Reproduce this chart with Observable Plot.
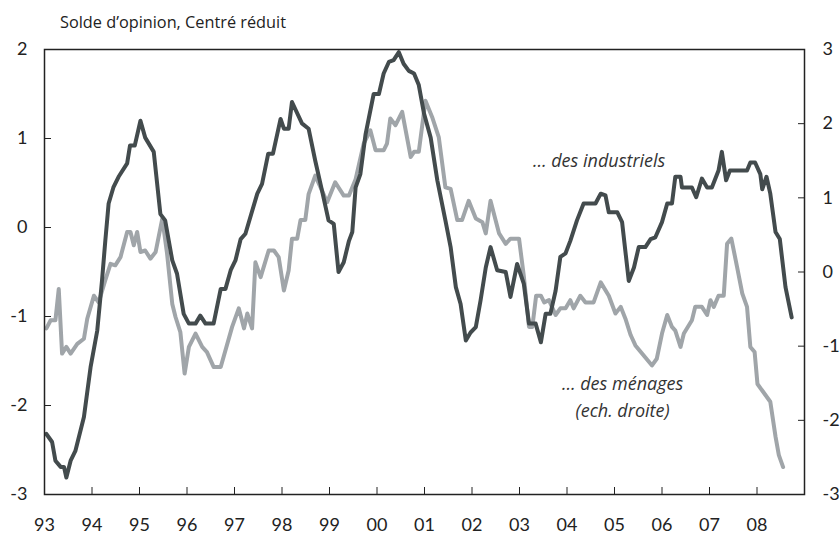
<!DOCTYPE html>
<html><head><meta charset="utf-8">
<script src="https://cdn.jsdelivr.net/npm/d3@7"></script>
<script src="https://cdn.jsdelivr.net/npm/@observablehq/plot@0.6"></script>
<style>
body{margin:0;background:#fff;}
#wrap{position:relative;width:840px;height:535px;font-family:Lato,"Open Sans",sans-serif;}
#title{position:absolute;left:60px;top:11px;font-family:"Open Sans",sans-serif;font-size:16.3px;color:#222;white-space:nowrap;}
#wrap svg{position:absolute;left:0;top:0;}
</style></head><body>
<div id="wrap"><div id="title">Solde d’opinion, Centré réduit</div></div>
<script>
const years = d3.range(1993, 2009);
const leftTicks = [-3, -2, -1, 0, 1, 2];
const rightTicks = [-3, -2, -1, 0, 1, 2, 3];

// Industriels (échelle de gauche)
const indDates = [1993.04,1993.16,1993.23,1993.34,1993.41,1993.46,1993.55,1993.65,1993.83,1993.97,
1994.11,1994.21,1994.28,1994.35,1994.45,1994.56,1994.74,1994.80,1994.90,1995.02,
1995.12,1995.30,1995.44,1995.54,1995.69,1995.79,1995.93,1996.04,1996.18,1996.28,
1996.39,1996.56,1996.71,1996.81,1996.92,1997.02,1997.13,1997.23,1997.48,1997.58,
1997.71,1997.81,1997.97,1998.04,1998.14,1998.21,1998.42,1998.56,1998.70,1998.84,
1998.98,1999.09,1999.19,1999.30,1999.41,1999.48,1999.55,1999.65,1999.76,1999.93,
2000.04,2000.14,2000.25,2000.35,2000.46,2000.56,2000.67,2000.78,2000.88,2000.99,
2001.13,2001.27,2001.44,2001.55,2001.66,2001.76,2001.87,2001.97,2002.08,2002.18,
2002.29,2002.39,2002.53,2002.71,2002.81,2002.95,2003.09,2003.20,2003.34,2003.45,
2003.55,2003.65,2003.76,2003.86,2003.97,2004.07,2004.21,2004.35,2004.60,2004.71,
2004.81,2004.88,2005.06,2005.16,2005.30,2005.41,2005.51,2005.65,2005.76,2005.86,
2006.00,2006.11,2006.21,2006.28,2006.39,2006.42,2006.63,2006.72,2006.84,2006.95,
2007.05,2007.19,2007.26,2007.35,2007.43,2007.79,2007.86,2007.96,2008.07,2008.11,
2008.20,2008.28,2008.39,2008.48,2008.60,2008.73];
const indValues = [-2.32,-2.41,-2.62,-2.69,-2.69,-2.81,-2.62,-2.51,-2.13,-1.57,
-1.16,-0.60,-0.15,0.27,0.45,0.57,0.72,0.92,0.92,1.20,
1.01,0.85,0.15,0.08,-0.37,-0.52,-0.97,-1.08,-1.08,-0.99,
-1.08,-1.08,-0.69,-0.69,-0.48,-0.37,-0.13,-0.07,0.38,0.49,
0.83,0.83,1.22,1.11,1.11,1.41,1.17,1.11,0.75,0.42,
0.08,0.04,-0.50,-0.39,-0.15,-0.05,0.45,0.60,1.05,1.50,
1.50,1.73,1.86,1.88,1.97,1.84,1.76,1.73,1.60,1.28,
1.01,0.53,0.08,-0.22,-0.67,-0.86,-1.27,-1.18,-1.12,-0.82,
-0.45,-0.22,-0.48,-0.50,-0.78,-0.41,-0.63,-1.08,-1.08,-1.29,
-0.97,-0.97,-0.71,-0.33,-0.29,-0.15,0.08,0.27,0.27,0.38,
0.36,0.17,0.17,0.06,-0.60,-0.45,-0.22,-0.22,-0.13,-0.11,
0.06,0.27,0.27,0.57,0.57,0.45,0.45,0.34,0.55,0.45,
0.45,0.64,0.85,0.53,0.64,0.64,0.73,0.73,0.60,0.43,
0.57,0.38,-0.05,-0.13,-0.67,-1.01];

// Ménages (échelle de droite)
const menDates = [1993.04,1993.13,1993.23,1993.30,1993.37,1993.46,1993.55,1993.69,1993.83,1993.90,
1994.04,1994.14,1994.28,1994.39,1994.49,1994.60,1994.74,1994.81,1994.88,1994.95,
1995.02,1995.12,1995.23,1995.34,1995.48,1995.58,1995.69,1995.76,1995.86,1995.95,
1996.04,1996.18,1996.32,1996.42,1996.56,1996.71,1996.95,1997.09,1997.20,1997.27,
1997.37,1997.44,1997.55,1997.72,1997.83,1997.93,1998.04,1998.14,1998.21,1998.32,
1998.39,1998.49,1998.56,1998.70,1998.84,1998.95,1999.12,1999.30,1999.41,1999.55,
1999.72,1999.86,1999.97,2000.14,2000.21,2000.28,2000.39,2000.53,2000.71,2000.78,
2000.88,2001.02,2001.16,2001.30,2001.44,2001.55,2001.69,2001.79,2001.93,2002.08,
2002.22,2002.29,2002.39,2002.57,2002.71,2002.81,2002.99,2003.09,2003.20,2003.27,
2003.35,2003.45,2003.52,2003.62,2003.76,2003.86,2003.97,2004.07,2004.14,2004.28,
2004.39,2004.56,2004.71,2004.88,2005.02,2005.13,2005.23,2005.34,2005.44,2005.58,
2005.79,2005.89,2006.00,2006.11,2006.21,2006.28,2006.39,2006.46,2006.63,2006.70,
2006.84,2006.95,2007.02,2007.09,2007.19,2007.30,2007.37,2007.46,2007.58,2007.69,
2007.79,2007.86,2007.95,2008.01,2008.28,2008.39,2008.46,2008.55];
const menValues = [-0.76,-0.65,-0.65,-0.23,-1.10,-1.01,-1.10,-0.97,-0.90,-0.63,
-0.32,-0.41,-0.11,0.11,0.09,0.20,0.54,0.54,0.36,0.54,
0.27,0.29,0.18,0.27,0.72,0.25,-0.43,-0.61,-0.81,-1.37,
-1.01,-0.83,-1.01,-1.08,-1.28,-1.28,-0.74,-0.49,-0.76,-0.56,
-0.76,0.13,-0.07,0.29,0.29,0.20,-0.25,0.02,0.45,0.45,
0.70,0.70,1.05,1.30,1.10,0.94,1.21,1.03,1.03,1.25,
1.73,1.91,1.64,1.64,1.73,2.07,1.98,2.16,1.55,1.62,
1.62,2.31,2.09,1.82,1.14,1.12,0.70,0.70,0.96,0.72,
0.67,0.52,0.96,0.52,0.38,0.45,0.45,-0.05,-0.74,-0.74,
-0.32,-0.32,-0.41,-0.38,-0.58,-0.49,-0.49,-0.38,-0.49,-0.32,
-0.41,-0.41,-0.14,-0.32,-0.56,-0.47,-0.63,-0.85,-0.99,-1.10,
-1.26,-1.17,-0.83,-0.58,-0.74,-0.79,-1.01,-0.83,-0.65,-0.47,
-0.47,-0.58,-0.38,-0.47,-0.32,-0.32,0.38,0.45,0.07,-0.29,
-0.47,-1.01,-1.08,-1.51,-1.75,-2.22,-2.47,-2.63];

const labelTexts = ["… des industriels", "… des ménages", "(ech. droite)"];
const labelDates = [2006.07, 2005.17, 2005.17];
const labelValues = [0.742, -1.764, -2.067];
const labelAnchors = ["end", "middle", "middle"];

// right scale [-3,3] mapped onto left scale [-3,2]
const toLeft = r => 2 - (3 - r) * 5 / 6;
const toRight = l => 3 - (2 - l) * 6 / 5;

const ind = indDates.map((t, i) => ({t, v: indValues[i]}));
const men = menDates.map((t, i) => ({t, v: toLeft(menValues[i])}));
const labels = labelTexts.map((text, i) => ({text, t: labelDates[i], v: labelValues[i], a: labelAnchors[i]}));

const annFont = "'Open Sans', Lato, sans-serif";
const chart = Plot.plot({
  width: 840, height: 535,
  marginLeft: 44, marginRight: 36, marginTop: 49, marginBottom: 41,
  x: {domain: [1993, 2009]},
  y: {domain: [-3, 2]},
  style: {fontFamily: "Lato, 'Open Sans', sans-serif", fontSize: "18px", color: "#222", background: "white"},
  marks: [
    Plot.line(men, {x: "t", y: "v", stroke: "#a0a5a9", strokeWidth: 4}),
    Plot.line(ind, {x: "t", y: "v", stroke: "#434b4d", strokeWidth: 4}),
    Plot.frame({stroke: "#222", strokeWidth: 1.5}),
    Plot.axisX({ticks: years, tickFormat: d => String(d).slice(2), tickSize: -7, tickPadding: 31, label: null, fontSize: 18}),
    Plot.axisY({anchor: "left", ticks: leftTicks, tickFormat: d => String(d), tickSize: -7, tickPadding: 24, label: null, fontSize: 18}),
    Plot.axisY({anchor: "right", ticks: rightTicks.map(toLeft), tickFormat: d => String(Math.round(toRight(d))), tickSize: -7, tickPadding: 25, label: null, fontSize: 18}),
    Plot.text(labels.filter(d => d.a === "end"), {x: "t", y: "v", text: "text", textAnchor: "end", fontStyle: "italic", fontFamily: annFont, fontSize: 18, fill: "#333"}),
    Plot.text(labels.filter(d => d.a === "middle"), {x: "t", y: "v", text: "text", textAnchor: "middle", fontStyle: "italic", fontFamily: annFont, fontSize: 18, fill: "#333"})
  ]
});
document.getElementById("wrap").prepend(chart);
</script>
</body></html>
